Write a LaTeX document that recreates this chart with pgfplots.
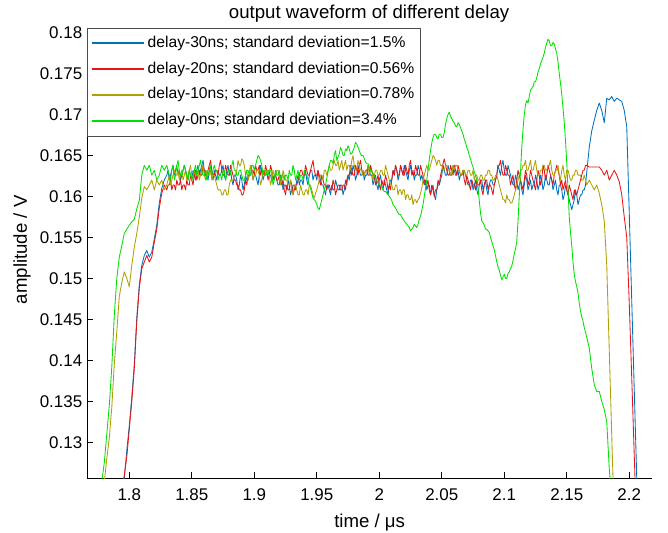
\documentclass[border=0pt]{standalone}
\usepackage{fontspec}
\setmainfont{Liberation Sans}
\usepackage{pgfplots}
\usepackage{pgfplotstable}
\pgfplotsset{compat=1.18}

\definecolor{c30}{RGB}{0,114,189}
\definecolor{c20}{RGB}{232,20,20}
\definecolor{c10}{RGB}{176,160,0}
\definecolor{c0}{RGB}{0,225,0}

% measured output amplitude (V) versus time (us) for each delay setting
% a: delay 30 ns, b: delay 20 ns, c: delay 10 ns, d: delay 0 ns
\pgfplotstableread{
t a b c d
1.776 0.1180 0.1180 0.1220 0.1240
1.778 0.1190 0.1190 0.1235 0.1252
1.780 0.1200 0.1200 0.1252 0.1275
1.782 0.1205 0.1205 0.1280 0.1310
1.784 0.1210 0.1210 0.1305 0.1345
1.786 0.1215 0.1215 0.1343 0.1392
1.788 0.1220 0.1220 0.1395 0.1455
1.790 0.1225 0.1225 0.1435 0.1500
1.792 0.1232 0.1232 0.1478 0.1526
1.794 0.1240 0.1240 0.1495 0.1540
1.796 0.1256 0.1260 0.1508 0.1555
1.798 0.1290 0.1282 0.1500 0.1560
1.800 0.1320 0.1316 0.1490 0.1565
1.802 0.1355 0.1350 0.1516 0.1569
1.804 0.1395 0.1390 0.1538 0.1572
1.806 0.1452 0.1448 0.1555 0.1585
1.808 0.1492 0.1488 0.1575 0.1595
1.810 0.1516 0.1512 0.1598 0.1626
1.812 0.1528 0.1520 0.1612 0.1638
1.814 0.1534 0.1528 0.1608 0.1632
1.816 0.1526 0.1520 0.1614 0.1638
1.818 0.1532 0.1526 0.1620 0.1626
1.820 0.1548 0.1544 0.1608 0.1632
1.822 0.1565 0.1560 0.1620 0.1620
1.824 0.1592 0.1586 0.1614 0.1626
1.826 0.1610 0.1604 0.1620 0.1638
1.828 0.1620 0.1614 0.1608 0.1632
1.830 0.1626 0.1608 0.1614 0.1638
1.831 0.1632 0.1614 0.1620 0.1632
1.832 0.1620 0.1614 0.1626 0.1626
1.833 0.1626 0.1620 0.1614 0.1620
1.834 0.1632 0.1608 0.1620 0.1632
1.835 0.1638 0.1614 0.1626 0.1638
1.836 0.1626 0.1614 0.1632 0.1620
1.837 0.1632 0.1608 0.1626 0.1626
1.838 0.1638 0.1620 0.1626 0.1638
1.839 0.1626 0.1614 0.1632 0.1644
1.840 0.1632 0.1614 0.1620 0.1632
1.841 0.1620 0.1620 0.1626 0.1626
1.842 0.1626 0.1608 0.1632 0.1626
1.843 0.1632 0.1614 0.1620 0.1632
1.844 0.1638 0.1614 0.1626 0.1638
1.845 0.1632 0.1608 0.1632 0.1632
1.846 0.1626 0.1620 0.1620 0.1626
1.847 0.1620 0.1614 0.1626 0.1620
1.848 0.1632 0.1614 0.1632 0.1632
1.849 0.1626 0.1626 0.1638 0.1626
1.850 0.1620 0.1620 0.1626 0.1620
1.851 0.1632 0.1614 0.1620 0.1626
1.852 0.1626 0.1626 0.1632 0.1632
1.853 0.1620 0.1632 0.1626 0.1638
1.854 0.1632 0.1620 0.1626 0.1626
1.855 0.1638 0.1626 0.1632 0.1632
1.856 0.1626 0.1632 0.1620 0.1638
1.857 0.1632 0.1626 0.1626 0.1644
1.858 0.1638 0.1626 0.1632 0.1632
1.859 0.1644 0.1638 0.1638 0.1626
1.860 0.1632 0.1632 0.1626 0.1626
1.861 0.1626 0.1626 0.1620 0.1632
1.862 0.1626 0.1626 0.1632 0.1620
1.863 0.1620 0.1632 0.1626 0.1626
1.864 0.1632 0.1638 0.1626 0.1632
1.865 0.1638 0.1644 0.1632 0.1638
1.866 0.1626 0.1632 0.1620 0.1626
1.867 0.1620 0.1626 0.1626 0.1632
1.868 0.1632 0.1626 0.1626 0.1638
1.869 0.1626 0.1632 0.1620 0.1632
1.870 0.1620 0.1632 0.1614 0.1632
1.871 0.1632 0.1626 0.1608 0.1620
1.872 0.1626 0.1638 0.1608 0.1626
1.873 0.1626 0.1644 0.1608 0.1626
1.874 0.1632 0.1632 0.1602 0.1620
1.875 0.1638 0.1626 0.1602 0.1632
1.876 0.1626 0.1626 0.1608 0.1632
1.877 0.1620 0.1638 0.1608 0.1620
1.878 0.1632 0.1632 0.1602 0.1626
1.879 0.1638 0.1626 0.1602 0.1632
1.880 0.1626 0.1626 0.1614 0.1632
1.881 0.1632 0.1638 0.1620 0.1626
1.882 0.1620 0.1632 0.1620 0.1638
1.883 0.1614 0.1626 0.1620 0.1644
1.884 0.1626 0.1620 0.1626 0.1632
1.885 0.1626 0.1620 0.1626 0.1632
1.886 0.1620 0.1614 0.1632 0.1626
1.887 0.1608 0.1614 0.1644 0.1626
1.888 0.1614 0.1608 0.1638 0.1632
1.889 0.1626 0.1608 0.1638 0.1632
1.890 0.1620 0.1602 0.1646 0.1626
1.891 0.1608 0.1602 0.1644 0.1620
1.892 0.1614 0.1608 0.1638 0.1620
1.893 0.1626 0.1620 0.1626 0.1626
1.894 0.1620 0.1614 0.1632 0.1632
1.895 0.1620 0.1626 0.1620 0.1632
1.896 0.1626 0.1626 0.1626 0.1626
1.897 0.1638 0.1626 0.1638 0.1626
1.898 0.1632 0.1632 0.1632 0.1638
1.899 0.1620 0.1632 0.1620 0.1638
1.900 0.1626 0.1626 0.1626 0.1632
1.901 0.1626 0.1638 0.1626 0.1638
1.902 0.1620 0.1632 0.1632 0.1644
1.903 0.1614 0.1632 0.1632 0.1650
1.904 0.1626 0.1638 0.1626 0.1648
1.905 0.1638 0.1626 0.1614 0.1644
1.906 0.1632 0.1632 0.1620 0.1638
1.907 0.1620 0.1632 0.1632 0.1626
1.908 0.1626 0.1626 0.1626 0.1632
1.909 0.1626 0.1638 0.1626 0.1632
1.910 0.1632 0.1632 0.1632 0.1626
1.911 0.1632 0.1620 0.1632 0.1626
1.912 0.1626 0.1626 0.1626 0.1632
1.913 0.1626 0.1638 0.1614 0.1632
1.914 0.1620 0.1632 0.1620 0.1626
1.915 0.1620 0.1620 0.1632 0.1614
1.916 0.1626 0.1626 0.1626 0.1620
1.917 0.1626 0.1626 0.1626 0.1632
1.918 0.1620 0.1620 0.1632 0.1626
1.919 0.1614 0.1620 0.1632 0.1626
1.920 0.1614 0.1626 0.1626 0.1632
1.921 0.1626 0.1620 0.1614 0.1620
1.922 0.1620 0.1614 0.1620 0.1626
1.923 0.1608 0.1620 0.1632 0.1626
1.924 0.1614 0.1608 0.1626 0.1620
1.925 0.1614 0.1602 0.1620 0.1626
1.926 0.1608 0.1614 0.1620 0.1626
1.927 0.1620 0.1608 0.1614 0.1620
1.928 0.1614 0.1608 0.1614 0.1632
1.929 0.1602 0.1620 0.1620 0.1626
1.930 0.1608 0.1614 0.1608 0.1626
1.931 0.1614 0.1602 0.1602 0.1638
1.932 0.1614 0.1608 0.1614 0.1632
1.933 0.1608 0.1614 0.1614 0.1620
1.934 0.1620 0.1614 0.1608 0.1626
1.935 0.1626 0.1620 0.1602 0.1632
1.936 0.1614 0.1626 0.1602 0.1620
1.937 0.1620 0.1632 0.1614 0.1626
1.938 0.1620 0.1632 0.1608 0.1626
1.939 0.1614 0.1626 0.1602 0.1620
1.940 0.1626 0.1626 0.1602 0.1632
1.941 0.1632 0.1638 0.1608 0.1626
1.942 0.1620 0.1632 0.1608 0.1626
1.943 0.1614 0.1626 0.1602 0.1620
1.944 0.1626 0.1626 0.1614 0.1614
1.945 0.1632 0.1632 0.1614 0.1610
1.946 0.1632 0.1638 0.1608 0.1604
1.947 0.1620 0.1644 0.1602 0.1598
1.948 0.1626 0.1632 0.1598 0.1596
1.949 0.1626 0.1626 0.1604 0.1594
1.950 0.1620 0.1626 0.1608 0.1590
1.951 0.1632 0.1632 0.1614 0.1586
1.952 0.1626 0.1620 0.1620 0.1584
1.953 0.1620 0.1614 0.1626 0.1590
1.954 0.1614 0.1626 0.1626 0.1596
1.955 0.1614 0.1620 0.1620 0.1602
1.956 0.1608 0.1614 0.1632 0.1608
1.957 0.1602 0.1614 0.1632 0.1614
1.958 0.1614 0.1608 0.1626 0.1622
1.959 0.1614 0.1614 0.1632 0.1630
1.960 0.1608 0.1614 0.1638 0.1638
1.961 0.1602 0.1608 0.1632 0.1644
1.962 0.1614 0.1608 0.1632 0.1644
1.963 0.1608 0.1620 0.1638 0.1640
1.964 0.1608 0.1614 0.1644 0.1650
1.965 0.1620 0.1602 0.1638 0.1656
1.966 0.1614 0.1608 0.1638 0.1644
1.967 0.1608 0.1614 0.1644 0.1648
1.968 0.1608 0.1614 0.1632 0.1652
1.969 0.1614 0.1608 0.1638 0.1660
1.970 0.1614 0.1608 0.1644 0.1656
1.971 0.1602 0.1614 0.1632 0.1650
1.972 0.1608 0.1614 0.1638 0.1650
1.973 0.1620 0.1608 0.1644 0.1658
1.974 0.1614 0.1620 0.1632 0.1656
1.975 0.1626 0.1626 0.1638 0.1662
1.976 0.1620 0.1626 0.1638 0.1658
1.977 0.1632 0.1638 0.1632 0.1652
1.978 0.1626 0.1632 0.1644 0.1652
1.979 0.1638 0.1626 0.1650 0.1656
1.980 0.1632 0.1626 0.1638 0.1660
1.981 0.1620 0.1638 0.1632 0.1666
1.982 0.1626 0.1632 0.1632 0.1664
1.983 0.1638 0.1626 0.1644 0.1660
1.984 0.1632 0.1638 0.1638 0.1656
1.985 0.1626 0.1644 0.1632 0.1652
1.986 0.1626 0.1632 0.1632 0.1650
1.987 0.1632 0.1626 0.1626 0.1650
1.988 0.1620 0.1626 0.1626 0.1646
1.989 0.1626 0.1632 0.1632 0.1642
1.990 0.1626 0.1632 0.1632 0.1640
1.991 0.1638 0.1626 0.1638 0.1640
1.992 0.1632 0.1626 0.1626 0.1636
1.993 0.1626 0.1638 0.1632 0.1632
1.994 0.1626 0.1632 0.1632 0.1630
1.995 0.1614 0.1626 0.1620 0.1628
1.996 0.1620 0.1626 0.1626 0.1626
1.997 0.1626 0.1614 0.1632 0.1622
1.998 0.1614 0.1620 0.1632 0.1620
1.999 0.1608 0.1626 0.1626 0.1616
2.000 0.1620 0.1614 0.1626 0.1614
2.001 0.1626 0.1608 0.1632 0.1614
2.002 0.1614 0.1620 0.1632 0.1612
2.003 0.1608 0.1614 0.1626 0.1608
2.004 0.1620 0.1614 0.1626 0.1606
2.005 0.1614 0.1626 0.1638 0.1606
2.006 0.1608 0.1620 0.1632 0.1604
2.007 0.1602 0.1608 0.1626 0.1602
2.008 0.1614 0.1614 0.1620 0.1600
2.009 0.1620 0.1608 0.1614 0.1598
2.010 0.1620 0.1620 0.1614 0.1595
2.011 0.1632 0.1632 0.1608 0.1590
2.012 0.1626 0.1626 0.1608 0.1588
2.013 0.1638 0.1638 0.1614 0.1586
2.014 0.1632 0.1632 0.1614 0.1583
2.015 0.1620 0.1626 0.1602 0.1580
2.016 0.1626 0.1626 0.1608 0.1578
2.017 0.1638 0.1638 0.1608 0.1578
2.018 0.1632 0.1632 0.1602 0.1575
2.019 0.1626 0.1626 0.1608 0.1572
2.020 0.1638 0.1626 0.1608 0.1570
2.021 0.1632 0.1638 0.1596 0.1568
2.022 0.1626 0.1632 0.1602 0.1566
2.023 0.1620 0.1626 0.1602 0.1564
2.024 0.1632 0.1638 0.1596 0.1562
2.025 0.1638 0.1644 0.1596 0.1558
2.026 0.1626 0.1632 0.1602 0.1560
2.027 0.1632 0.1626 0.1590 0.1562
2.028 0.1620 0.1626 0.1596 0.1566
2.029 0.1626 0.1638 0.1596 0.1564
2.030 0.1626 0.1632 0.1592 0.1562
2.031 0.1638 0.1626 0.1596 0.1566
2.032 0.1632 0.1626 0.1598 0.1572
2.033 0.1620 0.1638 0.1604 0.1576
2.034 0.1626 0.1632 0.1610 0.1583
2.035 0.1620 0.1626 0.1620 0.1590
2.036 0.1614 0.1620 0.1626 0.1600
2.037 0.1620 0.1614 0.1632 0.1610
2.038 0.1608 0.1614 0.1638 0.1620
2.039 0.1614 0.1620 0.1632 0.1632
2.040 0.1614 0.1608 0.1632 0.1645
2.041 0.1602 0.1602 0.1638 0.1656
2.042 0.1608 0.1614 0.1644 0.1665
2.043 0.1614 0.1608 0.1650 0.1672
2.044 0.1602 0.1600 0.1648 0.1676
2.045 0.1596 0.1608 0.1644 0.1676
2.046 0.1608 0.1608 0.1638 0.1672
2.047 0.1614 0.1620 0.1644 0.1670
2.048 0.1614 0.1614 0.1644 0.1676
2.049 0.1620 0.1626 0.1638 0.1676
2.050 0.1626 0.1632 0.1638 0.1672
2.051 0.1638 0.1640 0.1632 0.1672
2.052 0.1632 0.1646 0.1632 0.1678
2.053 0.1626 0.1638 0.1638 0.1688
2.054 0.1626 0.1632 0.1638 0.1695
2.055 0.1638 0.1626 0.1632 0.1700
2.056 0.1632 0.1626 0.1632 0.1703
2.057 0.1626 0.1638 0.1626 0.1698
2.058 0.1626 0.1632 0.1626 0.1695
2.059 0.1638 0.1626 0.1638 0.1692
2.060 0.1632 0.1638 0.1632 0.1690
2.061 0.1626 0.1632 0.1638 0.1686
2.062 0.1626 0.1626 0.1638 0.1685
2.063 0.1632 0.1638 0.1632 0.1690
2.064 0.1620 0.1632 0.1632 0.1688
2.065 0.1626 0.1626 0.1626 0.1684
2.066 0.1626 0.1626 0.1626 0.1680
2.067 0.1632 0.1632 0.1632 0.1676
2.068 0.1632 0.1620 0.1632 0.1670
2.069 0.1626 0.1614 0.1626 0.1666
2.070 0.1620 0.1626 0.1626 0.1660
2.071 0.1614 0.1620 0.1632 0.1656
2.072 0.1614 0.1614 0.1632 0.1650
2.073 0.1620 0.1608 0.1626 0.1646
2.074 0.1620 0.1620 0.1626 0.1640
2.075 0.1608 0.1614 0.1632 0.1636
2.076 0.1614 0.1614 0.1620 0.1630
2.077 0.1620 0.1608 0.1626 0.1626
2.078 0.1608 0.1620 0.1626 0.1620
2.079 0.1602 0.1614 0.1620 0.1610
2.080 0.1614 0.1614 0.1620 0.1595
2.081 0.1620 0.1620 0.1626 0.1580
2.082 0.1620 0.1608 0.1626 0.1570
2.083 0.1608 0.1602 0.1620 0.1568
2.084 0.1614 0.1614 0.1620 0.1565
2.085 0.1620 0.1620 0.1626 0.1560
2.086 0.1608 0.1620 0.1626 0.1560
2.087 0.1602 0.1608 0.1632 0.1558
2.088 0.1614 0.1614 0.1632 0.1556
2.089 0.1620 0.1614 0.1626 0.1550
2.090 0.1620 0.1608 0.1626 0.1545
2.091 0.1614 0.1602 0.1620 0.1540
2.092 0.1614 0.1614 0.1620 0.1535
2.093 0.1620 0.1620 0.1626 0.1528
2.094 0.1626 0.1626 0.1626 0.1520
2.095 0.1638 0.1638 0.1620 0.1514
2.096 0.1632 0.1638 0.1614 0.1510
2.097 0.1626 0.1644 0.1608 0.1504
2.098 0.1638 0.1632 0.1602 0.1498
2.099 0.1644 0.1626 0.1596 0.1502
2.100 0.1632 0.1626 0.1596 0.1505
2.101 0.1626 0.1638 0.1592 0.1500
2.102 0.1626 0.1632 0.1602 0.1500
2.103 0.1638 0.1626 0.1596 0.1506
2.104 0.1632 0.1626 0.1596 0.1508
2.105 0.1626 0.1614 0.1592 0.1512
2.106 0.1620 0.1620 0.1592 0.1515
2.107 0.1614 0.1626 0.1596 0.1522
2.108 0.1614 0.1614 0.1602 0.1530
2.109 0.1626 0.1608 0.1608 0.1536
2.110 0.1620 0.1620 0.1614 0.1545
2.111 0.1608 0.1632 0.1620 0.1570
2.112 0.1614 0.1626 0.1626 0.1600
2.113 0.1620 0.1620 0.1632 0.1630
2.114 0.1608 0.1614 0.1632 0.1660
2.115 0.1602 0.1608 0.1638 0.1682
2.116 0.1614 0.1620 0.1638 0.1700
2.117 0.1626 0.1632 0.1644 0.1712
2.118 0.1620 0.1626 0.1632 0.1717
2.119 0.1608 0.1614 0.1632 0.1714
2.120 0.1614 0.1620 0.1638 0.1722
2.121 0.1620 0.1632 0.1644 0.1730
2.122 0.1608 0.1626 0.1632 0.1732
2.123 0.1614 0.1620 0.1632 0.1734
2.124 0.1614 0.1614 0.1638 0.1740
2.125 0.1626 0.1608 0.1644 0.1740
2.126 0.1620 0.1620 0.1632 0.1745
2.127 0.1608 0.1632 0.1626 0.1752
2.128 0.1614 0.1626 0.1626 0.1756
2.129 0.1626 0.1614 0.1632 0.1762
2.130 0.1620 0.1620 0.1632 0.1766
2.131 0.1608 0.1638 0.1638 0.1770
2.132 0.1614 0.1632 0.1638 0.1775
2.133 0.1626 0.1620 0.1632 0.1782
2.134 0.1620 0.1626 0.1632 0.1787
2.135 0.1614 0.1638 0.1638 0.1792
2.136 0.1614 0.1632 0.1638 0.1790
2.137 0.1626 0.1626 0.1644 0.1784
2.138 0.1620 0.1620 0.1632 0.1784
2.139 0.1608 0.1614 0.1626 0.1788
2.140 0.1614 0.1626 0.1626 0.1786
2.141 0.1620 0.1632 0.1632 0.1780
2.142 0.1608 0.1638 0.1632 0.1775
2.143 0.1602 0.1632 0.1638 0.1764
2.144 0.1614 0.1626 0.1626 0.1750
2.145 0.1614 0.1614 0.1620 0.1738
2.146 0.1608 0.1620 0.1632 0.1725
2.147 0.1596 0.1608 0.1638 0.1708
2.148 0.1602 0.1614 0.1626 0.1690
2.149 0.1614 0.1620 0.1620 0.1668
2.150 0.1608 0.1608 0.1632 0.1641
2.151 0.1602 0.1602 0.1632 0.1608
2.152 0.1596 0.1614 0.1626 0.1575
2.153 0.1590 0.1608 0.1620 0.1556
2.154 0.1584 0.1602 0.1620 0.1540
2.155 0.1590 0.1596 0.1626 0.1520
2.156 0.1596 0.1608 0.1626 0.1505
2.157 0.1608 0.1602 0.1632 0.1496
2.158 0.1602 0.1602 0.1632 0.1490
2.159 0.1590 0.1608 0.1626 0.1482
2.160 0.1596 0.1614 0.1626 0.1470
2.161 0.1602 0.1620 0.1626 0.1460
2.162 0.1602 0.1626 0.1620 0.1453
2.163 0.1608 0.1632 0.1620 0.1448
2.164 0.1608 0.1632 0.1626 0.1440
2.165 0.1614 0.1638 0.1620 0.1434
2.166 0.1630 0.1638 0.1614 0.1428
2.168 0.1660 0.1636 0.1620 0.1415
2.170 0.1680 0.1636 0.1614 0.1390
2.172 0.1693 0.1636 0.1608 0.1370
2.174 0.1705 0.1636 0.1614 0.1362
2.176 0.1714 0.1636 0.1604 0.1362
2.178 0.1705 0.1632 0.1590 0.1350
2.180 0.1690 0.1626 0.1570 0.1340
2.182 0.1720 0.1632 0.1516 0.1325
2.184 0.1718 0.1620 0.1412 0.1268
2.186 0.1722 0.1626 0.1308 0.1230
2.188 0.1716 0.1632 0.1204 0.1200
2.190 0.1720 0.1626 0.1150 0.1180
2.192 0.1718 0.1618 0.1120 0.1170
2.194 0.1716 0.1602 0.1100 0.1160
2.196 0.1705 0.1575 0.1090 0.1150
2.198 0.1685 0.1550 0.1080 0.1140
2.200 0.1580 0.1470 0.1070 0.1130
2.202 0.1472 0.1378 0.1060 0.1120
2.204 0.1364 0.1284 0.1050 0.1110
2.206 0.1256 0.1190 0.1040 0.1100
2.208 0.1170 0.1100 0.1030 0.1090
}\wave

\begin{document}
\begin{tikzpicture}
\path[use as bounding box] (-87.3bp,-54.7bp) rectangle (580.7bp,478.3bp);
\begin{axis}[
  at={(0,0)}, anchor=south west,
  scale only axis, width=564.7bp, height=450.6bp,
  xmin=1.7664, xmax=2.2182, ymin=0.1256, ymax=0.1806,
  axis x line*=bottom, axis y line*=left,
  axis line style={line width=0.8bp, black},
  xtick={1.8,1.85,1.9,1.95,2,2.05,2.1,2.15,2.2},
  ytick={0.13,0.135,0.14,0.145,0.15,0.155,0.16,0.165,0.17,0.175,0.18},
  tick align=inside, major tick length=6bp,
  tick style={line width=0.8bp, black},
  /pgf/number format/fixed,
  /pgf/number format/precision=3,
  /pgf/number format/assume math mode=true,
  tick label style={font=\fontsize{17}{20}\selectfont},
  xticklabel style={yshift=-7bp},
  yticklabel style={xshift=-1.6bp},
  title={output waveform of different delay},
  title style={at={(axis description cs:0.499,1.0082)}, anchor=base,
    font=\fontsize{18.7}{22}\selectfont},
  xlabel={time / μs},
  ylabel={amplitude / V},
  label style={font=\fontsize{18.7}{22}\selectfont},
  xlabel style={at={(axis description cs:0.5,-0.1092)}, anchor=base},
  ylabel style={at={(axis description cs:-0.1156,0.507)}, anchor=center},
  legend cell align=left,
  legend image code/.code={\draw[line width=2bp, #1] (0bp,0bp) -- (52bp,0bp);},
  legend style={at={(axis description cs:0,1)}, anchor=north west,
    draw=black!70, line width=0.8bp, fill=white,
    inner xsep=3bp, inner ysep=7.8bp, row sep=10.8bp,
    font=\fontsize{15.7}{18}\selectfont,
    nodes={inner xsep=3bp, inner ysep=0pt, text height=11.5bp, text depth=3.5bp}},
  every axis plot/.append style={line width=0.85bp, line join=round},
]
\addplot[c30] table[x=t, y=a] {\wave};
\addlegendentry{delay-30ns; standard deviation=1.5\%}
\addplot[c20] table[x=t, y=b] {\wave};
\addlegendentry{delay-20ns; standard deviation=0.56\%}
\addplot[c10] table[x=t, y=c] {\wave};
\addlegendentry{delay-10ns; standard deviation=0.78\%}
\addplot[c0] table[x=t, y=d] {\wave};
\addlegendentry{delay-0ns; standard deviation=3.4\%}
\end{axis}
\end{tikzpicture}
\end{document}
